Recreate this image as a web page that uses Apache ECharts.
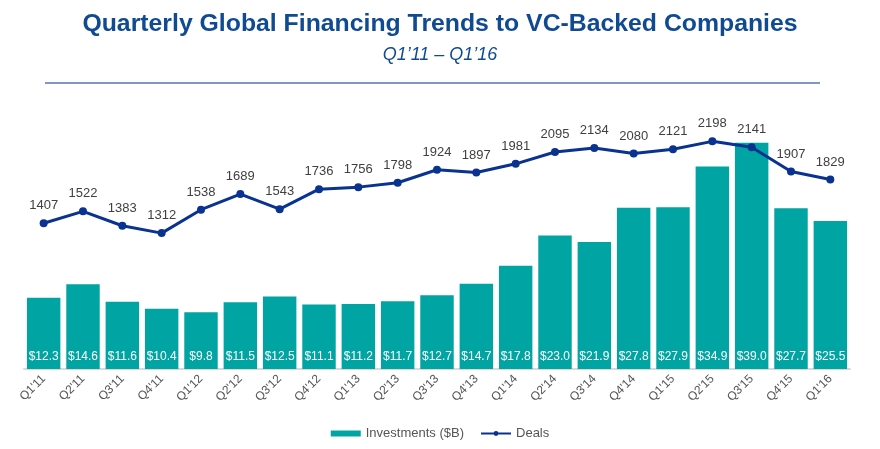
<!DOCTYPE html>
<html>
<head>
<meta charset="utf-8">
<script src="https://cdn.jsdelivr.net/npm/echarts@6/dist/echarts.min.js"></script>
<style>html,body{margin:0;padding:0;background:#fff}#c{width:880px;height:449px}</style>
</head>
<body>
<div id="c"></div>
<script>
const categories = ["Q1'11","Q2'11","Q3'11","Q4'11","Q1'12","Q2'12","Q3'12","Q4'12","Q1'13","Q2'13","Q3'13","Q4'13","Q1'14","Q2'14","Q3'14","Q4'14","Q1'15","Q2'15","Q3'15","Q4'15","Q1'16"];
const investments = [12.3,14.6,11.6,10.4,9.8,11.5,12.5,11.1,11.2,11.7,12.7,14.7,17.8,23.0,21.9,27.8,27.9,34.9,39.0,27.7,25.5];
const deals = [1407,1522,1383,1312,1538,1689,1543,1736,1756,1798,1924,1897,1981,2095,2134,2080,2121,2198,2141,1907,1829];

const chart = echarts.init(document.getElementById('c'));
chart.setOption({
  animation: false,
  textStyle: { fontFamily: 'Liberation Sans, Arial, sans-serif' },
  title: [{
    text: 'Quarterly Global Financing Trends to VC-Backed Companies',
    left: 'center', top: 7,
    textStyle: { fontSize: 24.8, fontWeight: 'bold', color: '#0f4a92' }
  }, {
    text: 'Q1\u201911 \u2013 Q1\u201916',
    left: 'center', top: 41,
    textStyle: { fontSize: 18, fontStyle: 'italic', fontWeight: 'normal', color: '#0f4a92' }
  }],
  graphic: [{
    type: 'line', shape: { x1: 45, y1: 83, x2: 820, y2: 83 },
    style: { stroke: '#8096c8', lineWidth: 2 }
  }],
  legend: {
    bottom: 4, left: 'center', itemGap: 16, itemWidth: 30, itemHeight: 6,
    textStyle: { fontSize: 13, color: '#555' },
    data: [{ name: 'Investments ($B)', icon: 'rect' }, { name: 'Deals' }]
  },
  grid: { left: 24, right: 30, top: 79, bottom: 80 },
  xAxis: {
    type: 'category', data: categories,
    axisLine: { lineStyle: { color: '#d9d9d9', width: 2 } },
    axisTick: { show: false },
    axisLabel: { rotate: 45, fontSize: 12, color: '#555', margin: 8 }
  },
  yAxis: [
    { type: 'value', min: 0, max: 50, show: false, splitLine: { show: false } },
    { type: 'value', min: 0, max: 2800, show: false, splitLine: { show: false } }
  ],
  series: [{
    name: 'Investments ($B)', type: 'bar', data: investments, yAxisIndex: 0,
    barCategoryGap: '15%',
    itemStyle: { color: '#00a4a2' },
    label: { show: true, position: 'insideBottom', distance: 6, color: '#fff', fontSize: 12,
      formatter: p => '$' + p.value.toFixed(1) }
  }, {
    name: 'Deals', type: 'line', data: deals, yAxisIndex: 1,
    symbol: 'circle', symbolSize: 8,
    lineStyle: { color: '#0a3290', width: 3 },
    itemStyle: { color: '#0a3290' },
    label: { show: true, position: 'top', distance: 7, color: '#404040', fontSize: 13 }
  }]
});
</script>
</body>
</html>
